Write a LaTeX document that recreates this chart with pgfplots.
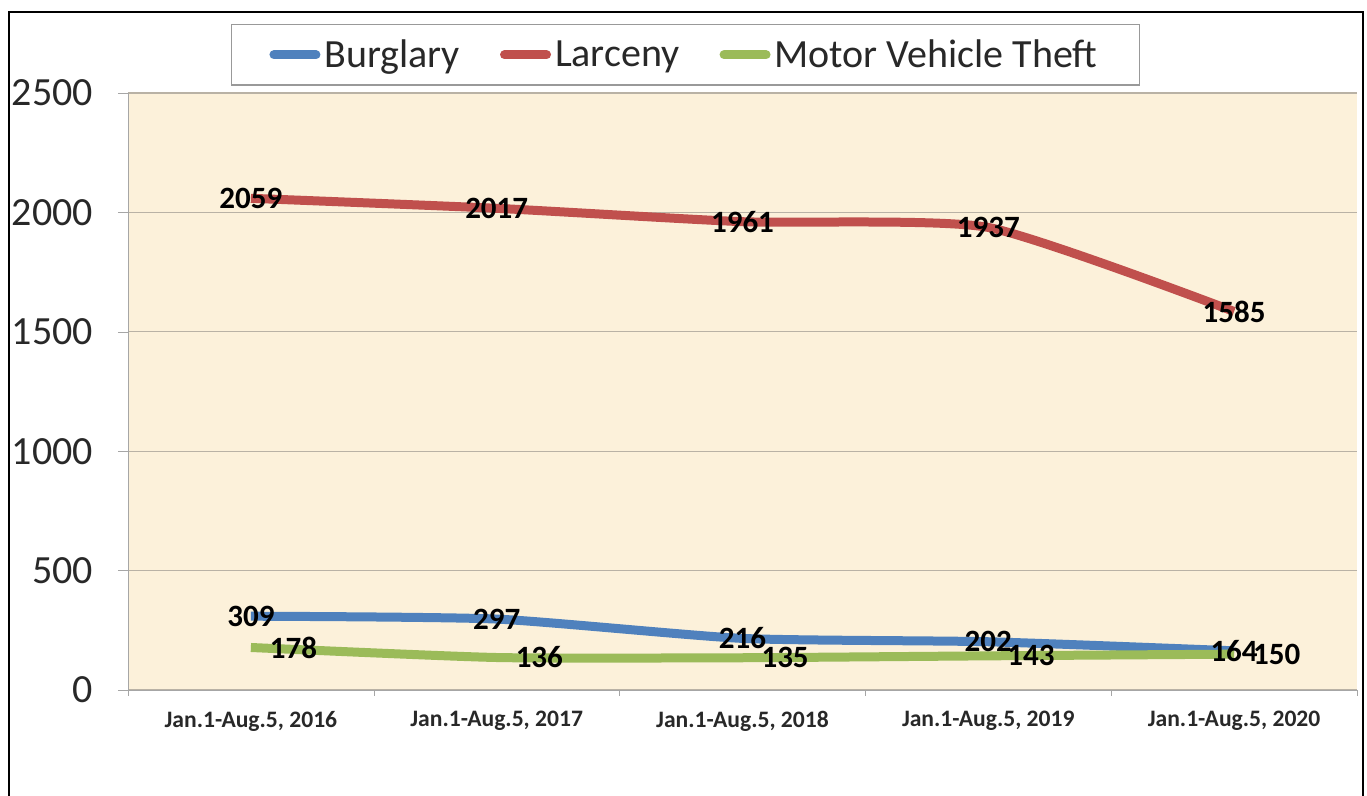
\documentclass[border=0pt]{standalone}
\usepackage{fontspec}
\setmainfont{Carlito}
\usepackage{pgfplots}
\pgfplotsset{compat=1.18}
\definecolor{BurgBlue}{RGB}{79,129,189}
\definecolor{LarcRed}{RGB}{192,80,77}
\definecolor{MvtGreen}{RGB}{155,187,89}
\definecolor{Parchment}{RGB}{252,241,218}
\definecolor{GridTan}{RGB}{185,178,165}
\definecolor{TextGray}{RGB}{40,40,40}

\begin{document}
\begin{tikzpicture}
\path[use as bounding box] (-64pt,-53pt) rectangle (619.5pt,345pt);
% outer frame (bottom edge is cut off in the source)
\draw[line width=1pt] (-59.5pt,-53pt) -- (-59.5pt,339pt) -- (617.5pt,339pt) -- (617.5pt,-53pt);
\begin{axis}[
    scale only axis,
    width=614.5pt, height=298.5pt,
    at={(0,0)}, anchor=south west,
    axis background/.style={fill=Parchment},
    axis lines*=left,
    axis line style={-, draw=gray!70},
    xmin=-0.5, xmax=4.5,
    ymin=0, ymax=2500,
    ytick={0,500,...,2500},
    xtick={0,...,4},
    xticklabels={{Jan.1-Aug.5, 2016},{Jan.1-Aug.5, 2017},{Jan.1-Aug.5, 2018},{Jan.1-Aug.5, 2019},{Jan.1-Aug.5, 2020}},
    minor xtick={-0.5,0.5,...,4.5},
    major x tick style={draw=none},
    minor x tick style={draw=gray!70},
    y tick style={draw=gray!70},
    tick align=outside,
    major tick length=5pt,
    minor tick length=3pt,
    ymajorgrids,
    major grid style={draw=GridTan, line width=0.6pt},
    xticklabel style={font=\bfseries\fontsize{11.8}{13}\selectfont, text=TextGray, yshift=-2pt},
    yticklabel style={font=\fontsize{20}{23}\selectfont, text=TextGray, xshift=-9pt},
    /pgf/number format/1000 sep={},
    /pgf/number format/assume math mode=true,
    no marks,
    legend columns=-1,
    legend style={draw=gray!80, line width=0.8pt, at={(0.4536,1.0117)}, anchor=south,
        font=\fontsize{20}{23}\selectfont, text=TextGray, inner xsep=19pt, inner ysep=5.5pt,
        /tikz/every even column/.append style={column sep=18pt}},
    legend image code/.code={\draw[#1, line cap=round] (0pt,0pt) -- (21pt,0pt);},
]
\addplot[BurgBlue, line width=4.5pt, smooth, tension=0.35] coordinates {(0,309) (1,297) (2,216) (3,202) (4,164)};
\addplot[LarcRed, line width=4.5pt, smooth, tension=0.35] coordinates {(0,2059) (1,2017) (2,1961) (3,1937) (4,1585)};
\addplot[MvtGreen, line width=4.5pt, smooth, tension=0.35] coordinates {(0,178) (1,136) (2,135) (3,143) (4,150)};
\legend{Burglary, Larceny, Motor Vehicle Theft}
% data labels on top of every line
\addplot[draw=none, forget plot, nodes near coords,
    every node near coord/.append style={anchor=center, font=\bfseries\fontsize{15.5}{18}\selectfont}]
    coordinates {(0,309) (1,297) (2,216) (3,202) (4,164)};
\addplot[draw=none, forget plot, nodes near coords,
    every node near coord/.append style={anchor=center, font=\bfseries\fontsize{15.5}{18}\selectfont}]
    coordinates {(0,2059) (1,2017) (2,1961) (3,1937) (4,1585)};
\addplot[draw=none, forget plot, nodes near coords,
    every node near coord/.append style={anchor=west, xshift=6pt, font=\bfseries\fontsize{15.5}{18}\selectfont}]
    coordinates {(0,178) (1,136) (2,135) (3,143) (4,150)};
\end{axis}
\end{tikzpicture}
\end{document}
